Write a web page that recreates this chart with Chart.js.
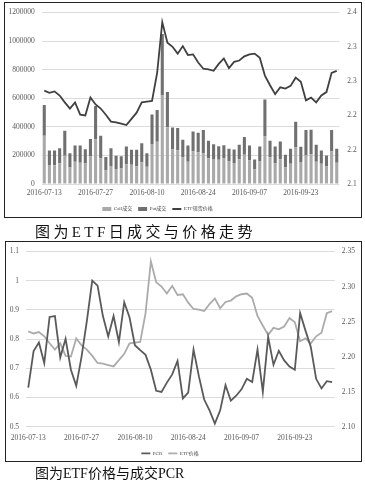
<!DOCTYPE html>
<html>
<head>
<meta charset="utf-8">
<script src="https://cdn.jsdelivr.net/npm/chart.js@4"></script>
<style>
  body { margin: 0; background: #fff; width: 365px; height: 480px; position: relative; overflow: hidden; }
  .frame { position: absolute; border: 1px solid #222; box-sizing: border-box; }
  .wrap { position: absolute; left: 0; width: 365px; }
  .cap { position: absolute; left: 35px; color: #111; white-space: nowrap;
         font-family: 'Liberation Serif', 'Noto Sans CJK SC', serif; line-height: 16px; }
</style>
</head>
<body>
<div class="frame" style="left:4px;top:2px;width:358px;height:216px"></div>
<div class="wrap" style="top:0;height:224px"><canvas id="volumeChart"></canvas></div>
<div class="cap" style="top:224px;font-size:15px;letter-spacing:3.4px">图为ETF日成交与价格走势</div>

<div class="frame" style="left:5px;top:241px;width:357px;height:221px"></div>
<div class="wrap" style="top:240px;height:230px"><canvas id="pcrChart"></canvas></div>
<div class="cap" style="top:466px;font-size:14px">图为ETF价格与成交PCR</div>

<script>
const dates = [
  "2016-07-13","2016-07-14","2016-07-15","2016-07-18","2016-07-19","2016-07-20","2016-07-21","2016-07-22","2016-07-25","2016-07-26",
  "2016-07-27","2016-07-28","2016-07-29","2016-08-01","2016-08-02","2016-08-03","2016-08-04","2016-08-05","2016-08-08","2016-08-09",
  "2016-08-10","2016-08-11","2016-08-12","2016-08-15","2016-08-16","2016-08-17","2016-08-18","2016-08-19","2016-08-22","2016-08-23",
  "2016-08-24","2016-08-25","2016-08-26","2016-08-29","2016-08-30","2016-08-31","2016-09-01","2016-09-02","2016-09-05","2016-09-06",
  "2016-09-07","2016-09-08","2016-09-09","2016-09-12","2016-09-13","2016-09-14","2016-09-19","2016-09-20","2016-09-21","2016-09-22",
  "2016-09-23","2016-09-26","2016-09-27","2016-09-28","2016-09-29","2016-09-30","2016-10-10","2016-10-11",
];

const callVolume = [
  338000,133000,131000,146000,198000,115000,155000,149000,144000,192000,
  313000,181000,95000,126000,105000,108000,139000,134000,124000,152000,
  121000,276000,296000,619000,397000,244000,237000,185000,156000,230000,
  222000,214000,181000,175000,170000,179000,158000,147000,173000,204000,
  165000,103000,158000,335000,187000,145000,173000,116000,142000,255000,
  154000,200000,208000,155000,141000,122000,228000,149000,
];

const putVolume = [
  214000,101000,103000,104000,174000,101000,114000,120000,100000,123000,
  232000,157000,94000,124000,93000,87000,123000,105000,115000,133000,
  95000,211000,221000,431000,247000,151000,154000,125000,113000,138000,
  137000,163000,122000,103000,94000,92000,88000,94000,102000,124000,
  104000,68000,104000,256000,115000,117000,124000,89000,104000,180000,
  107000,177000,172000,120000,93000,77000,149000,98000,
];

const etfPrice = [
  2.236,2.233,2.235,2.229,2.219,2.210,2.219,2.201,2.200,2.226,
  2.216,2.210,2.201,2.191,2.190,2.188,2.186,2.195,2.204,2.219,
  2.220,2.221,2.262,2.336,2.306,2.300,2.290,2.301,2.288,2.289,
  2.277,2.268,2.267,2.265,2.275,2.283,2.269,2.278,2.280,2.286,
  2.289,2.290,2.284,2.258,2.244,2.231,2.241,2.239,2.243,2.255,
  2.249,2.222,2.226,2.219,2.229,2.234,2.262,2.265,
];

const pcr = [
  0.634,0.759,0.788,0.718,0.876,0.879,0.737,0.801,0.695,0.640,
  0.740,0.863,1.000,0.983,0.879,0.809,0.879,0.790,0.926,0.874,
  0.779,0.762,0.746,0.695,0.623,0.619,0.651,0.679,0.725,0.597,
  0.617,0.764,0.673,0.593,0.556,0.511,0.556,0.642,0.589,0.606,
  0.628,0.664,0.653,0.764,0.619,0.807,0.712,0.760,0.727,0.706,
  0.695,0.889,0.829,0.773,0.664,0.631,0.656,0.653,
];

document.addEventListener("DOMContentLoaded", function () {
  /* ── Chart defaults ── */
  Chart.defaults.font.family = "'Liberation Serif', 'Noto Sans CJK SC', serif";
  Chart.defaults.font.size = 7.5;
  Chart.defaults.color = "#595959";
  Chart.defaults.animation = false;

  const COLORS = {
    call: "#a9a9a9",
    put: "#707070",
    price: "#404040",
    pcr: "#5a5a5a",
    priceLight: "#ababab",
    grid: "#dcdcdc",
  };

  // only every 10th trading day gets a label
  const everyTenth = function (value, index) {
    return index % 10 === 0 ? this.getLabelForValue(value) : "";
  };

  // pins an axis to a fixed size so the plots line up with the picture
  const fixWidth = (w) => (scale) => { scale.width = w; };
  const fixHeight = (h) => (scale) => { scale.height = h; };

  // Excel-style legend that is not centred on the canvas
  const legendShift = (dx) => ({
    id: "legendShift",
    afterLayout(chart) {
      chart.legend.left += dx;
      chart.legend.right += dx;
    },
  });

  const legendOpts = {
    position: "bottom",
    labels: {
      usePointStyle: true,
      pointStyleWidth: 9,
      boxHeight: 4,
      padding: 6,
      color: "#444",
      font: { size: 5 },
      sort: (a, b) => a.datasetIndex - b.datasetIndex,
    },
  };

  /* ── ETF daily volume + price ── */
  new Chart(document.getElementById("volumeChart"), {
    type: "bar",
    data: {
      labels: dates,
      datasets: [
        {
          label: "Call成交",
          data: callVolume,
          backgroundColor: COLORS.call,
          borderWidth: 0,
          pointStyle: "rect",
          stack: "vol",
          order: 1,
          barPercentage: 0.6,
          categoryPercentage: 1,
        },
        {
          label: "Put成交",
          data: putVolume,
          backgroundColor: COLORS.put,
          borderWidth: 0,
          pointStyle: "rect",
          stack: "vol",
          order: 1,
          barPercentage: 0.6,
          categoryPercentage: 1,
        },
        {
          type: "line",
          label: "ETF现货价格",
          data: etfPrice,
          yAxisID: "y1",
          borderColor: COLORS.price,
          backgroundColor: COLORS.price,
          borderWidth: 1.8,
          pointRadius: 0,
          pointStyle: "line",
          tension: 0,
          order: 0,
        },
      ],
    },
    options: {
      responsive: true,
      maintainAspectRatio: false,
      layout: { padding: { top: 9.5, bottom: 2.5, left: 0, right: 0 } },
      scales: {
        x: {
          stacked: true,
          afterFit: fixHeight(16.5),
          grid: { display: false, drawTicks: false },
          border: { display: false },
          ticks: { autoSkip: false, maxRotation: 0, padding: 4.5, callback: everyTenth },
        },
        y: {
          stacked: true,
          min: 0,
          max: 1200000,
          afterFit: fixWidth(41.7),
          grid: { color: COLORS.grid, drawTicks: false },
          border: { display: false },
          ticks: { stepSize: 200000, padding: 7, callback: (v) => String(v) },
        },
        y1: {
          position: "right",
          min: 2.1,
          max: 2.35,
          afterFit: fixWidth(25.7),
          grid: { display: false, drawTicks: false },
          border: { display: false },
          ticks: {
            stepSize: 0.05,
            padding: 8,
            callback: (v) => (Math.round(v * 10 + 1e-6) / 10).toFixed(1),
          },
        },
      },
      plugins: {
        legend: legendOpts,
        tooltip: { enabled: false },
      },
    },
    plugins: [legendShift(-25)],
  });

  /* ── ETF price vs PCR ── */
  new Chart(document.getElementById("pcrChart"), {
    type: "line",
    data: {
      labels: dates,
      datasets: [
        {
          label: "PCR",
          data: pcr,
          yAxisID: "y",
          borderColor: COLORS.pcr,
          backgroundColor: COLORS.pcr,
          borderWidth: 1.8,
          pointRadius: 0,
          pointStyle: "line",
          tension: 0,
        },
        {
          label: "ETF价格",
          data: etfPrice,
          yAxisID: "y1",
          borderColor: COLORS.priceLight,
          backgroundColor: COLORS.priceLight,
          borderWidth: 1.8,
          pointRadius: 0,
          pointStyle: "line",
          tension: 0,
        },
      ],
    },
    options: {
      responsive: true,
      maintainAspectRatio: false,
      layout: { padding: { top: 7.7, bottom: 4.2, left: 0, right: 0 } },
      scales: {
        x: {
          offset: true,
          afterFit: fixHeight(18.1),
          grid: { display: false, drawTicks: false },
          border: { display: false },
          ticks: { autoSkip: false, maxRotation: 0, padding: 6.5, callback: everyTenth },
        },
        y: {
          min: 0.5,
          max: 1.1,
          afterFit: fixWidth(25.6),
          grid: { color: COLORS.grid, drawTicks: false },
          border: { display: false },
          ticks: { stepSize: 0.1, padding: 6.5, callback: (v) => String(Math.round(v * 10) / 10) },
        },
        y1: {
          position: "right",
          min: 2.1,
          max: 2.35,
          afterFit: fixWidth(30.2),
          grid: { display: false, drawTicks: false },
          border: { display: false },
          ticks: { stepSize: 0.05, padding: 7, callback: (v) => v.toFixed(2) },
        },
      },
      plugins: {
        legend: legendOpts,
        tooltip: { enabled: false },
      },
    },
    plugins: [legendShift(-12.5)],
  });
});
</script>
</body>
</html>
